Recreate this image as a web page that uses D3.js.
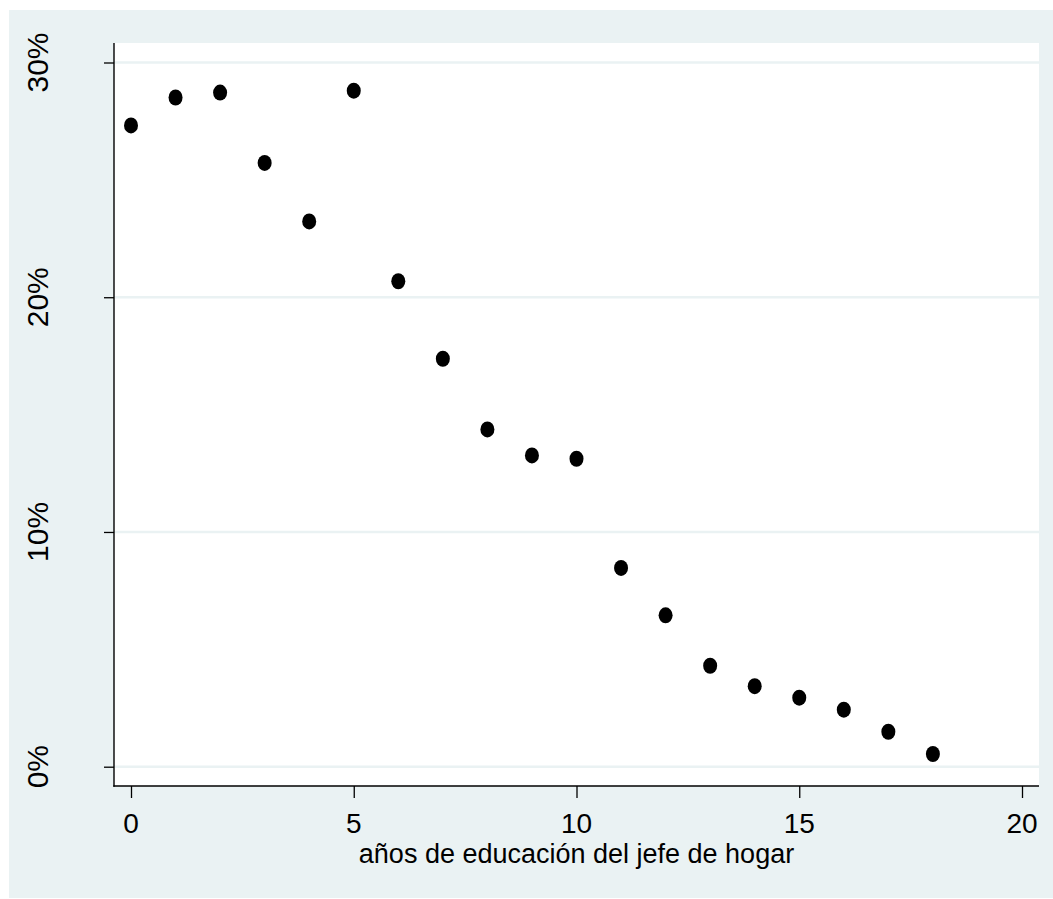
<!DOCTYPE html>
<html>
<head>
<meta charset="utf-8">
<script src="https://cdn.jsdelivr.net/npm/d3@7"></script>
<style>
  html, body { margin: 0; padding: 0; background: #ffffff; }
  svg { display: block; }
  text { font-family: "Liberation Sans", Arial, sans-serif; fill: #000; }
</style>
</head>
<body>
<svg id="chart" width="1053" height="899"></svg>
<script>
// Data
const years = [0, 1, 2, 3, 4, 5, 6, 7, 8, 9, 10, 11, 12, 13, 14, 15, 16, 17, 18];
const shares = [27.32, 28.51, 28.72, 25.72, 23.23, 28.80, 20.68, 17.38, 14.37, 13.26, 13.12,
                8.47, 6.45, 4.30, 3.43, 2.94, 2.43, 1.49, 0.54];
const xTicks = [0, 5, 10, 15, 20];
const yTicks = [0, 10, 20, 30];
const yTickLabels = ["0%", "10%", "20%", "30%"];
const xTitle = "años de educación del jefe de hogar";

const svg = d3.select("#chart");
const bg = "#EAF2F3";

// outer background
svg.append("rect").attr("x", 9).attr("y", 10).attr("width", 1044).attr("height", 888).attr("fill", bg);

const plot = { left: 114, top: 43, right: 1039, bottom: 786 };
svg.append("rect")
  .attr("x", plot.left).attr("y", plot.top)
  .attr("width", plot.right - plot.left).attr("height", plot.bottom - plot.top)
  .attr("fill", "#ffffff");

const x = d3.scaleLinear().domain([0, 20]).range([131, 1022]);
const y = d3.scaleLinear().domain([0, 30]).range([766.7, 62.5]);

// gridlines
svg.append("g").selectAll("line").data(yTicks).join("line")
  .attr("x1", plot.left).attr("x2", plot.right)
  .attr("y1", d => y(d)).attr("y2", d => y(d))
  .attr("stroke", bg).attr("stroke-width", 2.5);

// y axis
const yAxis = d3.axisLeft(y).tickValues(yTicks).tickSize(10).tickFormat("");
const gy = svg.append("g").attr("transform", `translate(${plot.left},0)`).call(yAxis);
gy.select(".domain").remove();
gy.selectAll(".tick line").attr("stroke", "#000").attr("stroke-width", 1.3);
svg.append("line").attr("x1", plot.left).attr("x2", plot.left)
  .attr("y1", plot.top).attr("y2", plot.bottom + 0.7)
  .attr("stroke", "#000").attr("stroke-width", 1.4);

svg.append("g").selectAll("text").data(yTicks).join("text")
  .attr("transform", d => `translate(48,${y(d)}) rotate(-90)`)
  .attr("text-anchor", "middle")
  .style("font-size", "30px")
  .text((d, i) => yTickLabels[i]);

// x axis
const xAxis = d3.axisBottom(x).tickValues(xTicks).tickSize(12).tickFormat("");
const gx = svg.append("g").attr("transform", `translate(0,${plot.bottom})`).call(xAxis);
gx.select(".domain").remove();
gx.selectAll(".tick line").attr("stroke", "#000").attr("stroke-width", 1.3);
svg.append("line").attr("x1", plot.left - 0.7).attr("x2", plot.right)
  .attr("y1", plot.bottom).attr("y2", plot.bottom)
  .attr("stroke", "#000").attr("stroke-width", 1.4);

svg.append("g").selectAll("text").data(xTicks).join("text")
  .attr("x", d => x(d)).attr("y", 833)
  .attr("text-anchor", "middle")
  .style("font-size", "28px")
  .text(d => d);

// x title
svg.append("text")
  .attr("x", (plot.left + plot.right) / 2).attr("y", 863)
  .attr("text-anchor", "middle")
  .style("font-size", "27px")
  .text(xTitle);

// points
svg.append("g").selectAll("ellipse").data(years).join("ellipse")
  .attr("cx", (d, i) => x(d))
  .attr("cy", (d, i) => y(shares[i]))
  .attr("rx", 7).attr("ry", 8)
  .attr("fill", "#000");
</script>
</body>
</html>
